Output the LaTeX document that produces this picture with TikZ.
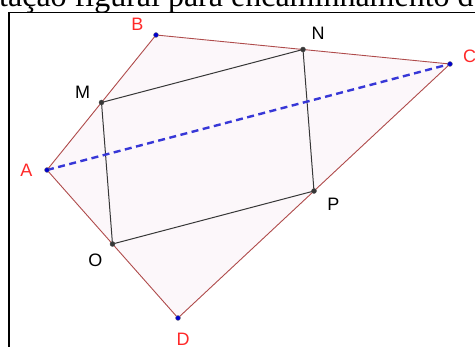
\documentclass[tikz,border=0pt]{standalone}
\usepackage{fontspec}
\setmainfont{Liberation Serif}
\newfontfamily\labfont{Liberation Sans}
\usetikzlibrary{calc}
\definecolor{edgecol}{RGB}{175,75,75}
\definecolor{fillcol}{RGB}{252,247,250}
\definecolor{ptblue}{RGB}{0,0,205}
\definecolor{dashblue}{RGB}{55,55,215}
\definecolor{labred}{RGB}{255,40,40}
\definecolor{ptgrey}{RGB}{55,55,55}
\begin{document}
\begin{tikzpicture}[x=1pt,y=-1pt,
  edge/.style={draw=edgecol,line width=0.9pt},
  midline/.style={draw=ptgrey,line width=1pt},
  diag/.style={draw=dashblue,line width=2.4pt,dash pattern=on 7pt off 4.5pt},
  bluept/.style={circle,fill=ptblue,draw=black!50,line width=0.4pt,inner sep=0pt,minimum size=5pt},
  greypt/.style={circle,fill=ptgrey,draw=black!70,line width=0.4pt,inner sep=0pt,minimum size=5pt},
  redlab/.style={text=labred,font=\labfont\fontsize{18}{18}\selectfont,inner sep=0pt},
  blacklab/.style={text=black,font=\labfont\fontsize{18}{18}\selectfont,inner sep=0pt},
  captext/.style={font=\fontsize{32}{32}\selectfont,inner sep=0pt,anchor=base west}]
\useasboundingbox (0,0) rectangle (475,347);
\clip (0,0) rectangle (475,347);
% vertices
\coordinate (A) at (47,170);
\coordinate (B) at (156,35);
\coordinate (C) at (450,64);
\coordinate (D) at (178,318);
\coordinate (M) at ($(A)!0.5!(B)$);
\coordinate (N) at ($(B)!0.5!(C)$);
\coordinate (P) at ($(C)!0.5!(D)$);
\coordinate (O) at ($(A)!0.5!(D)$);
% caption (cut off at top)
\node[captext] (cap) at (-1,7) {tação figural para encaminhamento d};
% frame
\draw[line width=1.8pt] (9,348) -- (9,12.5) -- (476,12.5);
% quadrilateral
\fill[fillcol] (A) -- (B) -- (C) -- (D) -- cycle;
\draw[edge] (A) -- (B) -- (C) -- (D) -- cycle;
% inner quadrilateral
\draw[midline] (M) -- (N) -- (P) -- (O) -- cycle;
% diagonal
\draw[diag] (A) -- (C);
% points
\node[bluept] (pA) at (A) {};
\node[bluept] (pB) at (B) {};
\node[bluept] (pC) at (C) {};
\node[bluept] (pD) at (D) {};
\node[greypt] (pM) at (M) {};
\node[greypt] (pN) at (N) {};
\node[greypt] (pP) at (P) {};
\node[greypt] (pO) at (O) {};
% labels
\node[redlab] (lA) at (26.5,170) {A};
\node[redlab] (lB) at (137.5,24.5) {B};
\node[redlab] (lC) at (469.5,56.5) {C};
\node[redlab] (lD) at (183,339.5) {D};
\node[blacklab] (lM) at (82.5,92.5) {M};
\node[blacklab] (lN) at (318,33) {N};
\node[blacklab] (lP) at (333.5,204.5) {P};
\node[blacklab] (lO) at (95.5,260) {O};
\end{tikzpicture}
\end{document}
